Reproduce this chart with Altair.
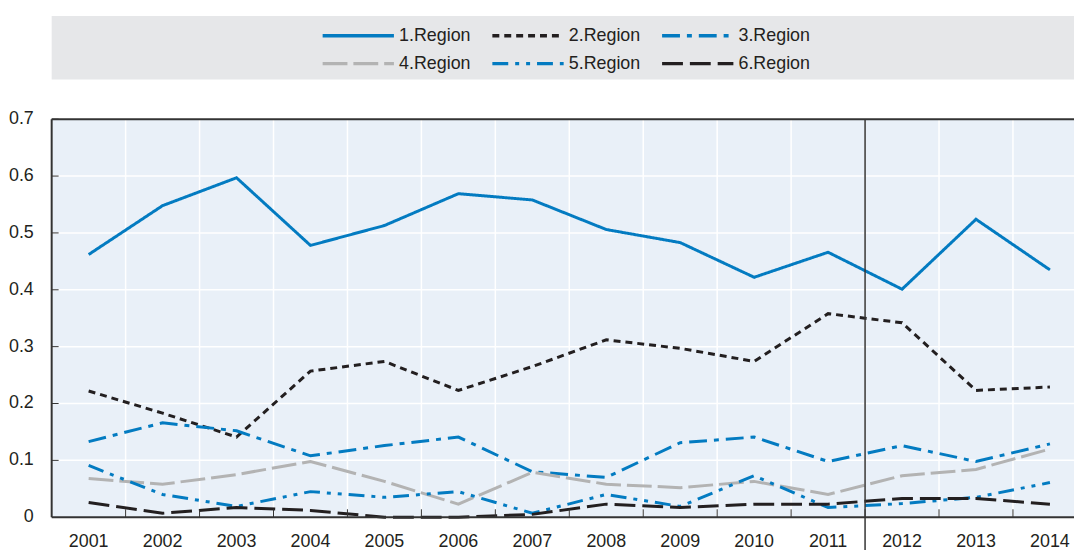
import altair as alt
import pandas as pd

years = list(range(2001, 2015))
regions = ["1.Region", "2.Region", "3.Region", "4.Region", "5.Region", "6.Region"]

region1 = [0.462, 0.548, 0.597, 0.478, 0.513, 0.569, 0.558, 0.506, 0.483, 0.422, 0.466, 0.401, 0.524, 0.435]
region2 = [0.222, 0.183, 0.141, 0.257, 0.274, 0.223, 0.265, 0.312, 0.297, 0.274, 0.358, 0.342, 0.223, 0.229]
region3 = [0.133, 0.166, 0.152, 0.108, 0.126, 0.141, 0.080, 0.070, 0.131, 0.141, 0.098, 0.126, 0.098, 0.129]
region4 = [0.068, 0.058, 0.075, 0.098, 0.063, 0.023, 0.079, 0.058, 0.052, 0.063, 0.040, 0.073, 0.084, 0.120]
region5 = [0.091, 0.040, 0.019, 0.045, 0.035, 0.045, 0.007, 0.040, 0.019, 0.073, 0.017, 0.024, 0.035, 0.061]
region6 = [0.026, 0.007, 0.017, 0.012, 0.000, 0.000, 0.005, 0.023, 0.017, 0.023, 0.023, 0.033, 0.033, 0.023]

y_ticks = [0, 0.1, 0.2, 0.3, 0.4, 0.5, 0.6, 0.7]
break_year = 2011.5

# ---- styles / layout ----
colors = ["#037bc1", "#231f20", "#037bc1", "#b3b3b3", "#037bc1", "#231f20"]
dashes = [[1, 0], [7, 5], [18, 7, 5, 7], [25, 6], [16, 7, 4, 7, 4, 7], [21, 7]]
FONT = "Liberation Sans, Arial, sans-serif"
TEXT = "#231f20"
FRAME = "#333333"
PLOT_BG = "#e9f0f8"
LEGEND_BG = "#e6e7e9"

PAD_L, PAD_T, PAD_B = 44, 110, 33
W, H = 1030, 401
band_px = 74.5
x0 = years[0] - 0.5
x_domain = [x0, x0 + W / band_px]
y_domain = [0, 0.7]

series = [region1, region2, region3, region4, region5, region6]
rows = []
for name, vals in zip(regions, series):
    for yr, v in zip(years, vals):
        rows.append({"region": name, "year": yr, "value": v})
df = pd.DataFrame(rows)

half = pd.DataFrame({"x": [y + 0.5 for y in years[:-1]]})
yt_all = pd.DataFrame({"y": y_ticks})
yt = pd.DataFrame({"y": y_ticks[1:]})
yr_df = pd.DataFrame({"year": years})

xscale = alt.Scale(domain=x_domain, nice=False, zero=False)
yscale = alt.Scale(domain=y_domain, nice=False, zero=True)
cscale = alt.Scale(domain=regions, range=colors)
dscale = alt.Scale(domain=regions, range=dashes)

tick_dy = 8 / H * (y_domain[1] - y_domain[0])
tick_dx = 7 / band_px

X = lambda f: alt.X(f, scale=xscale, axis=None)
Y = lambda f: alt.Y(f, scale=yscale, axis=None)

vgrid = alt.Chart(half).mark_rule(color="white", strokeWidth=1.5).encode(x=X("x:Q"))
hgrid = alt.Chart(yt).mark_rule(color="white", strokeWidth=1.5).encode(y=Y("y:Q"))

lines = alt.Chart(df).mark_line(strokeWidth=3).encode(
    x=X("year:Q"),
    y=Y("value:Q"),
    color=alt.Color("region:N", scale=cscale, legend=None),
    strokeDash=alt.StrokeDash("region:N", scale=dscale, legend=None),
    detail="region:N",
)

bottom_ticks = alt.Chart(half).mark_rule(color=FRAME, strokeWidth=1).encode(
    x=X("x:Q"), y=alt.datum(0, scale=yscale, axis=None), y2=alt.datum(tick_dy),
)
left_ticks = alt.Chart(yt).mark_rule(color=FRAME, strokeWidth=1).encode(
    y=Y("y:Q"), x=alt.datum(x0, scale=xscale, axis=None), x2=alt.datum(x0 + tick_dx),
)

frame_left = alt.Chart(pd.DataFrame({"x": [x0]})).mark_rule(color=FRAME, strokeWidth=2).encode(x=X("x:Q"))
frame_h = alt.Chart(pd.DataFrame({"y": [y_domain[0], y_domain[1]]})).mark_rule(color=FRAME, strokeWidth=2).encode(y=Y("y:Q"))

divider = alt.Chart(pd.DataFrame({"x": [break_year]})).mark_rule(color=FRAME, strokeWidth=1.5).encode(
    x=X("x:Q"), y=alt.value(0), y2=alt.value(H + PAD_B),
)

x_labels = alt.Chart(yr_df).mark_text(
    align="center", baseline="middle", dy=25, fontSize=18, font=FONT, color=TEXT
).encode(
    x=X("year:Q"), y=alt.datum(0, scale=yscale, axis=None),
    text=alt.Text("year:Q", format="d"),
)
y_labels = alt.Chart(yt_all).mark_text(
    align="right", baseline="middle", dx=-18, fontSize=18, font=FONT, color=TEXT
).encode(
    y=Y("y:Q"), x=alt.datum(x0, scale=xscale, axis=None),
    text=alt.Text("y:Q", format=".1~f"),
)

plot = alt.layer(vgrid, hgrid, lines, bottom_ticks, left_ticks, frame_left, frame_h,
                 divider, x_labels, y_labels)

# ---- legend panel (above the plot) ----
leg = pd.DataFrame({"region": regions,
                    "col": [i % 3 for i in range(len(regions))],
                    "row": [i // 3 for i in range(len(regions))]})
lx = alt.Scale(domain=[0, 1], range=[273, 444], nice=False, zero=False)
ly = alt.Scale(domain=[0, 1], range=[-84, -56], nice=False, zero=False)

leg_box = alt.Chart(pd.DataFrame({"k": [0]})).mark_rect(color=LEGEND_BG).encode(
    x=alt.value(0), x2=alt.value(W + 10), y=alt.value(-104), y2=alt.value(-40)
)
leg_base = alt.Chart(leg).transform_calculate(
    x_end="datum.col + 0.42", x_lab="datum.col + 0.45"
)
leg_lines = leg_base.mark_rule(strokeWidth=3.5).encode(
    x=alt.X("col:Q", scale=lx, axis=None),
    x2="x_end:Q",
    y=alt.Y("row:Q", scale=ly, axis=None),
    color=alt.Color("region:N", scale=cscale, legend=None),
    strokeDash=alt.StrokeDash("region:N", scale=dscale, legend=None),
)
leg_text = leg_base.mark_text(align="left", baseline="middle", fontSize=18, font=FONT, color=TEXT).encode(
    x=alt.X("x_lab:Q", scale=lx, axis=None),
    y=alt.Y("row:Q", scale=ly, axis=None),
    text="region:N",
)
legend = alt.layer(leg_box, leg_lines, leg_text)

chart = alt.layer(legend, plot).resolve_scale(x="independent", y="independent").properties(
    width=W, height=H,
    view=alt.ViewBackground(fill=PLOT_BG, stroke="transparent"),
    padding={"left": PAD_L, "top": PAD_T, "right": 0, "bottom": PAD_B},
    autosize=alt.AutoSizeParams(type="none"),
    background="white",
)

chart.save("out.html", embed_options={"renderer": "svg", "actions": False})
